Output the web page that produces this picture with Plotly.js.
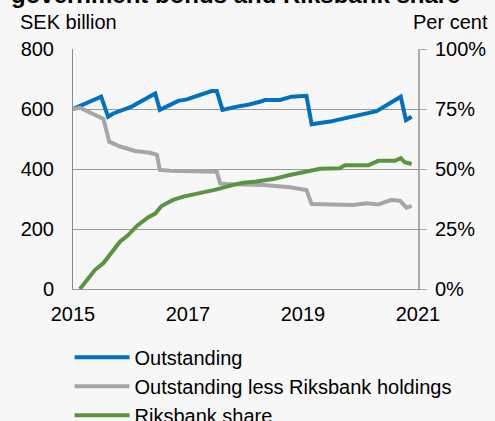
<!DOCTYPE html>
<html>
<head>
<meta charset="utf-8">
<script src="https://cdn.plot.ly/plotly-3.0.1.min.js"></script>
<style>html,body{margin:0;padding:0;background:#f7f7f7;}#chart{width:495px;height:421px;}</style>
</head>
<body>
<div id="chart"></div>
<script>
// Outstanding nominal government bonds, SEK billion
const outstandingX = [2015.00,2015.49,2015.61,2015.70,2016.02,2016.17,2016.43,2016.51,2016.83,2016.98,2017.21,2017.41,2017.50,2017.60,2017.85,2018.02,2018.25,2018.34,2018.60,2018.80,2019.06,2019.15,2019.47,2019.82,2020.28,2020.51,2020.70,2020.79,2020.89];
const outstanding  = [600,641,574,585,608,624,652,597,627,632,647,660,660,597,608,613,624,630,630,641,644,549,558,572,593,619,641,563,574];

// Outstanding less Riksbank holdings, SEK billion
const lessX = [2015.00,2015.12,2015.53,2015.63,2015.82,2016.08,2016.34,2016.46,2016.51,2016.69,2017.50,2017.56,2017.67,2018.08,2018.31,2018.77,2019.06,2019.15,2019.47,2019.87,2020.11,2020.31,2020.54,2020.69,2020.80,2020.89];
const lessHoldings = [600,604,567,491,475,460,454,447,397,394,391,352,350,349,347,339,330,283,281,280,286,282,297,294,271,277];

// Riksbank share, per cent
const shareX = [2015.12,2015.24,2015.38,2015.53,2015.64,2015.82,2015.96,2016.11,2016.31,2016.43,2016.54,2016.74,2016.92,2017.21,2017.50,2017.79,2017.96,2018.19,2018.48,2018.77,2019.06,2019.30,2019.64,2019.73,2020.14,2020.31,2020.60,2020.70,2020.77,2020.89];
const riksbankShare = [0,3.8,7.9,10.8,14.1,19.8,22.5,26.3,29.9,31.4,34.6,37.1,38.5,39.9,41.5,43.4,44.3,44.8,45.8,47.5,48.9,50.1,50.3,51.6,51.6,53.4,53.4,54.5,52.8,52.1];

const seriesNames = ["Outstanding","Outstanding less Riksbank holdings","Riksbank share"];
const xTicks = [2015,2017,2019,2021];
const leftTicks = [0,200,400,600,800];
const rightTicks = [0,25,50,75,100];

const FONT = "Liberation Sans, Arial, Helvetica, sans-serif";

const traces = [
  {x: outstandingX, y: outstanding, name: seriesNames[0], type: "scatter", mode: "lines",
   line: {color: "#0070c0", width: 4}, yaxis: "y"},
  {x: lessX, y: lessHoldings, name: seriesNames[1], type: "scatter", mode: "lines",
   line: {color: "#a6a6a6", width: 4}, yaxis: "y"},
  {x: shareX, y: riksbankShare, name: seriesNames[2], type: "scatter", mode: "lines",
   line: {color: "#5a9441", width: 4}, yaxis: "y2"}
];

const layout = {
  width: 495, height: 421,
  margin: {l: 73, r: 77, t: 49, b: 132, autoexpand: false},
  paper_bgcolor: "#f7f7f7", plot_bgcolor: "#f7f7f7",
  font: {family: FONT, size: 20, color: "#000"},
  showlegend: true,
  legend: {x: -0.01, xanchor: "left", y: -0.203, yanchor: "top",
           bgcolor: "rgba(0,0,0,0)", font: {size: 20}, itemwidth: 55,
           tracegroupgap: 0},
  xaxis: {range: [2015, 2021], tickvals: xTicks, ticktext: xTicks.map(String),
          showgrid: false, zeroline: false, showline: true, linecolor: "#999", linewidth: 1,
          ticks: "", ticklabelstandoff: 7, fixedrange: true},
  yaxis: {range: [0, 800], tickvals: leftTicks, ticktext: leftTicks.map(String),
          showgrid: true, gridcolor: "#9a9a9a", gridwidth: 1,
          zeroline: false, showline: true, linecolor: "#8a8a8a", linewidth: 1, ticks: "",
          ticklabelstandoff: 14},
  yaxis2: {range: [0, 100], tickvals: rightTicks, ticktext: rightTicks.map(v => v + "%"),
           overlaying: "y", side: "right",
           showgrid: false, zeroline: false, showline: true, linecolor: "#aaaaaa", linewidth: 2,
           ticks: "outside", ticklen: 7, tickcolor: "#aaaaaa", tickwidth: 1, ticklabelstandoff: 4},
  annotations: [
    {text: "<b>government bonds and Riksbank share</b>", xref: "paper", yref: "paper",
     x: -0.185, xanchor: "left", y: 1.1625, yanchor: "bottom", showarrow: false,
     font: {size: 24, family: FONT}},
    {text: "SEK billion", xref: "paper", yref: "paper", x: -0.16, xanchor: "left",
     y: 1.112, yanchor: "middle", showarrow: false, font: {size: 20}},
    {text: "Per cent", xref: "paper", yref: "paper", x: 1.21, xanchor: "right",
     y: 1.112, yanchor: "middle", showarrow: false, font: {size: 20}}
  ]
};

Plotly.newPlot("chart", traces, layout, {displayModeBar: false, staticPlot: true});
</script>
</body>
</html>
